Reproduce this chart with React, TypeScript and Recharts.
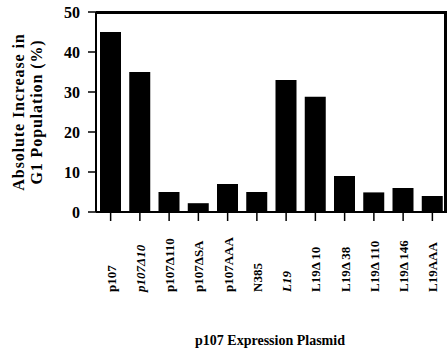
import React from 'react';
import { BarChart, Bar, XAxis, YAxis, Label, ReferenceLine, CartesianGrid } from 'recharts';

const plasmids = [
  'p107', 'p107\u039410', 'p107\u0394110', 'p107\u0394SA', 'p107AAA', 'N385',
  'L19', 'L19\u0394 10', 'L19\u0394 38', 'L19\u0394 110', 'L19\u0394 146', 'L19AAA',
];
const increase = [45, 35, 5, 2.2, 7, 5, 33, 28.8, 9, 4.9, 6, 4];
const italicLabels = ['p107\u039410', 'L19'];
const yTicks = [0, 10, 20, 30, 40, 50];

const data = plasmids.map((name, i) => ({ name, value: increase[i] }));

const font = '"Liberation Serif", "Times New Roman", serif';

const chartW = 448;
const chartH = 354;
const margin = { top: 12, right: 1, left: 0, bottom: 0 };
const yAxisW = 96;
const xAxisH = 142;

const PlasmidTick = (props: any) => {
  const { x, payload } = props;
  const label = payload.value as string;
  return (
    <text
      transform={`translate(${x + 5}, 292) rotate(-90)`}
      textAnchor="start"
      fontFamily={font}
      fontWeight="bold"
      fontStyle={italicLabels.includes(label) ? 'italic' : 'normal'}
      fontSize={13}
      fill="#000"
    >
      {label}
    </text>
  );
};

const YTitle = () => (
  <g fontFamily={font} fontWeight="bold" fontSize={16} fill="#000" letterSpacing={0.9}>
    <text transform="translate(24, 112) rotate(-90)" textAnchor="middle">
      Absolute Increase in
    </text>
    <text transform="translate(42, 112) rotate(-90)" textAnchor="middle">
      G1 Population (%)
    </text>
  </g>
);

const XTitle = () => (
  <text x={270} y={345} textAnchor="middle" fontFamily={font} fontWeight="bold" fontSize={14} fill="#000">
    p107 Expression Plasmid
  </text>
);

// top / right border of the plot box
const frameStyle: React.CSSProperties = {
  position: 'absolute',
  left: margin.left + yAxisW,
  top: margin.top - 1,
  width: chartW - margin.right - yAxisW - margin.left,
  height: chartH - margin.top - margin.bottom - xAxisH + 1,
  borderTop: '2px solid #000',
  borderRight: '2px solid #000',
  boxSizing: 'border-box',
  pointerEvents: 'none',
};

export default function App() {
  return (
    <div style={{ position: 'absolute', left: 0, top: 0, width: chartW, height: chartH, background: '#fff' }}>
      <BarChart
        width={chartW}
        height={chartH}
        data={data}
        margin={margin}
        barCategoryGap={0}
      >
        <CartesianGrid
          horizontalPoints={[margin.top + 1]}
          verticalPoints={[chartW - margin.right - 2]}
          stroke="#000"
          strokeWidth={2}
        />
        <XAxis
          dataKey="name"
          interval={0}
          height={xAxisH}
          axisLine={{ stroke: '#000', strokeWidth: 2 }}
          tickLine={{ stroke: '#000', strokeWidth: 1.5 }}
          tickSize={9}
          tick={<PlasmidTick />}
        >
          <Label content={<XTitle />} />
        </XAxis>
        <YAxis
          domain={[0, 50]}
          ticks={yTicks}
          width={yAxisW}
          axisLine={{ stroke: '#000', strokeWidth: 2 }}
          tickLine={{ stroke: '#000', strokeWidth: 1.5 }}
          tickSize={8}
          tickMargin={8}
          tick={{ fontFamily: font, fontWeight: 'bold', fontSize: 16, fill: '#000' }}
        >
          <Label content={<YTitle />} />
        </YAxis>
        <ReferenceLine y={49.8} stroke="#000" strokeWidth={2} />
        <Bar dataKey="value" fill="#000" barSize={21} isAnimationActive={false} />
      </BarChart>
      <div style={frameStyle} />
    </div>
  );
}
